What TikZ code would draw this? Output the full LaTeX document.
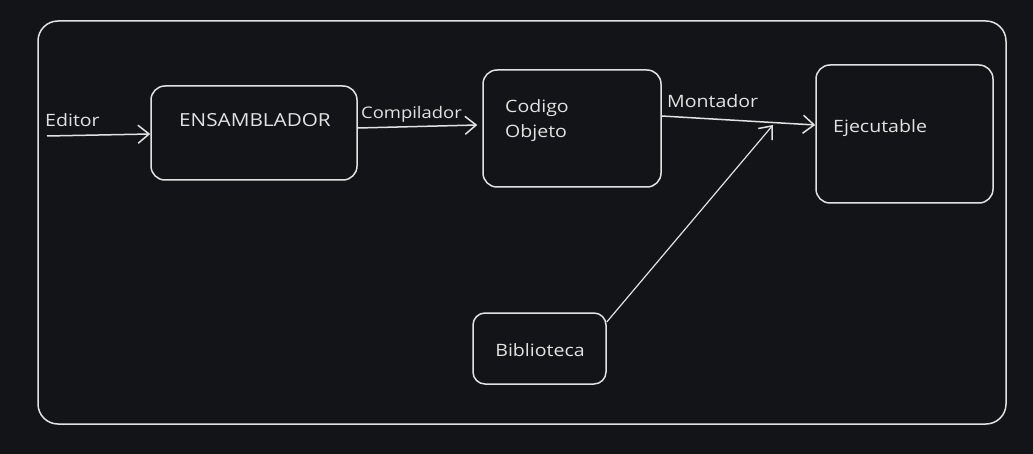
\documentclass[tikz,border=0pt]{standalone}
\usepackage{fontspec}
\setmainfont{Open Sans}[FakeStretch=1.15]
\usetikzlibrary{arrows.meta}
\definecolor{bg}{HTML}{121418}
\definecolor{ink}{HTML}{E2E2E2}
\tikzset{
  box/.style={draw=ink, line width=1.5pt, rounded corners=14pt, inner sep=0pt},
  lbl/.style={text=ink, font=\fontsize{17}{25}\selectfont, inner sep=0pt},
  conn/.style={draw=ink, line width=1.5pt, -{Straight Barb[length=11pt,width=18pt,line width=1.5pt]}},
}
\begin{document}
\begin{tikzpicture}[x=1pt,y=-1pt]
\fill[bg] (0,0) rectangle (1033,454);
\useasboundingbox (0,0) rectangle (1033,454);
% outer frame
\draw[ink, line width=1.5pt, rounded corners=20pt] (38,21) rectangle (1006,424);
% boxes
\node[box, minimum width=206pt, minimum height=94pt] (ens) at (254,133) {};
\node[lbl, anchor=base, font=\fontsize{18}{20}\selectfont] (enst) at (255,127) {ENSAMBLADOR};
\node[box, minimum width=178pt, minimum height=117pt] (cod) at (572,128.5) {};
\node[lbl, anchor=base west] (codt1) at (505,113) {Codigo};
\node[lbl, anchor=base west] (codt2) at (505,138) {Objeto};
\node[box, minimum width=177pt, minimum height=138pt] (eje) at (904.5,134) {};
\node[lbl, anchor=base west] (ejet) at (833,133) {Ejecutable};
\node[box, minimum width=133pt, minimum height=71pt, rounded corners=12pt] (bib) at (539.5,348.5) {};
\node[lbl, anchor=base] (bibt) at (540,356) {Biblioteca};
% connectors
\coordinate (edstart) at (47,136);
\coordinate (mj) at (773,125);
\draw[conn] (edstart) -- ([yshift=-1pt]ens.west);
\node[lbl, anchor=base west] (edl) at (45,127) {Editor};
\draw[conn] ([yshift=5pt]ens.east) -- ([yshift=3.5pt,xshift=-5pt]cod.west);
\node[lbl, anchor=base west, font=\fontsize{16}{20}\selectfont] (coml) at (361,119) {Compilador};
\draw[conn] ([yshift=12.5pt]cod.east) -- ([yshift=9pt]eje.west);
\node[lbl, anchor=base west] (monl) at (667,108) {Montador};
\draw[conn, line width=1.2pt] ([yshift=26.5pt]bib.east) -- (mj);
\end{tikzpicture}
\end{document}
